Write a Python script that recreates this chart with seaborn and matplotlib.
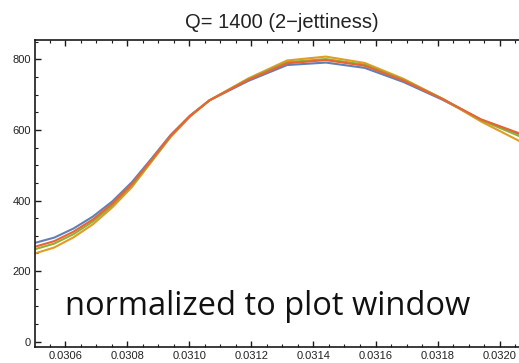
import numpy as np
import pandas as pd
import matplotlib
matplotlib.use("Agg")
import matplotlib.pyplot as plt
from matplotlib.ticker import MultipleLocator, FixedLocator, FuncFormatter
import seaborn as sns

# sample points (x) and the four curves (y)
x_vals = [0.03044, 0.0305025, 0.030565, 0.0306275, 0.03069, 0.0307525,
          0.030815, 0.0308775, 0.03094, 0.0310025, 0.031065, 0.03119,
          0.031315, 0.03144, 0.031565, 0.03169, 0.031815, 0.03194, 0.032065]
y_blue = [266, 280, 295, 321, 355, 398, 452, 518, 586, 641, 684,
          739, 784, 791, 776, 736, 686, 629, 588]
y_orange = [234, 250, 267, 296, 333, 381, 438, 509, 580, 638, 684,
            746, 797, 808, 790, 745, 689, 624, 568]
y_green = [246, 262, 278, 305, 341, 387, 443, 512, 582, 639, 684,
           744, 792, 801, 785, 742, 689, 628, 582]
y_red = [254, 269, 285, 312, 347, 392, 447, 515, 584, 640, 684,
         742, 789, 798, 782, 740, 688, 630, 590]

series_names = ["a", "b", "c", "d"]
palette = ["#5e81b5", "#e19c24", "#8fb032", "#eb6235"]

title_text = "Q= 1400 (2\u2212jettiness)"
note_text = "normalized to plot window"
x_major = [0.0306, 0.0308, 0.0310, 0.0312, 0.0314, 0.0316, 0.0318, 0.0320]
y_major = [0, 200, 400, 600, 800]

df = pd.DataFrame({
    "x": x_vals * 4,
    "y": y_blue + y_orange + y_green + y_red,
    "s": sum([[n] * len(x_vals) for n in series_names], []),
})

sns.set_theme(style="white")
plt.rcParams["font.family"] = ["Liberation Sans", "DejaVu Sans"]

W, H = 519, 363
fig = plt.figure(figsize=(W / 100, H / 100), dpi=100)
left, right, top, bottom = 35, 525, 40, 346.5
ax = fig.add_axes([left / W, 1 - bottom / H, (right - left) / W, (bottom - top) / H])

sns.lineplot(data=df, x="x", y="y", hue="s", palette=palette, ax=ax,
             linewidth=1.5, legend=False, estimator=None, sort=False)

ax.set_xlim(0.030503, 0.0320815)
ax.set_ylim(-13.6, 855)
ax.set_xlabel("")
ax.set_ylabel("")

ax.xaxis.set_major_locator(FixedLocator(x_major))
ax.xaxis.set_minor_locator(MultipleLocator(0.00005))
ax.yaxis.set_major_locator(FixedLocator(y_major))
ax.yaxis.set_minor_locator(MultipleLocator(50))
ax.xaxis.set_major_formatter(FuncFormatter(lambda v, p: f"{v:.4f}"))
ax.yaxis.set_major_formatter(FuncFormatter(lambda v, p: f"{v:.0f}"))

for sp in ax.spines.values():
    sp.set_color("#1a1a1a")
    sp.set_linewidth(1.2)
ax.spines["right"].set_visible(False)

ax.tick_params(which="both", direction="in", top=True, right=False,
               bottom=True, left=True, color="#1a1a1a")
ax.tick_params(which="major", length=4, width=1.0, labelsize=8,
               labelcolor="#222222", pad=3)
ax.tick_params(which="minor", length=2.5, width=0.8)

fig.text(281.5 / W, 1 - 28.3 / H, title_text, ha="center", va="baseline",
         fontsize=14.5, color="#222222")

ax.text(65 / W, 1 - 315 / H, note_text, transform=fig.transFigure,
        ha="left", va="baseline", fontsize=23.5, color="#111111",
        family=["Open Sans", "DejaVu Sans"])

fig.savefig("out.png", dpi=100)
